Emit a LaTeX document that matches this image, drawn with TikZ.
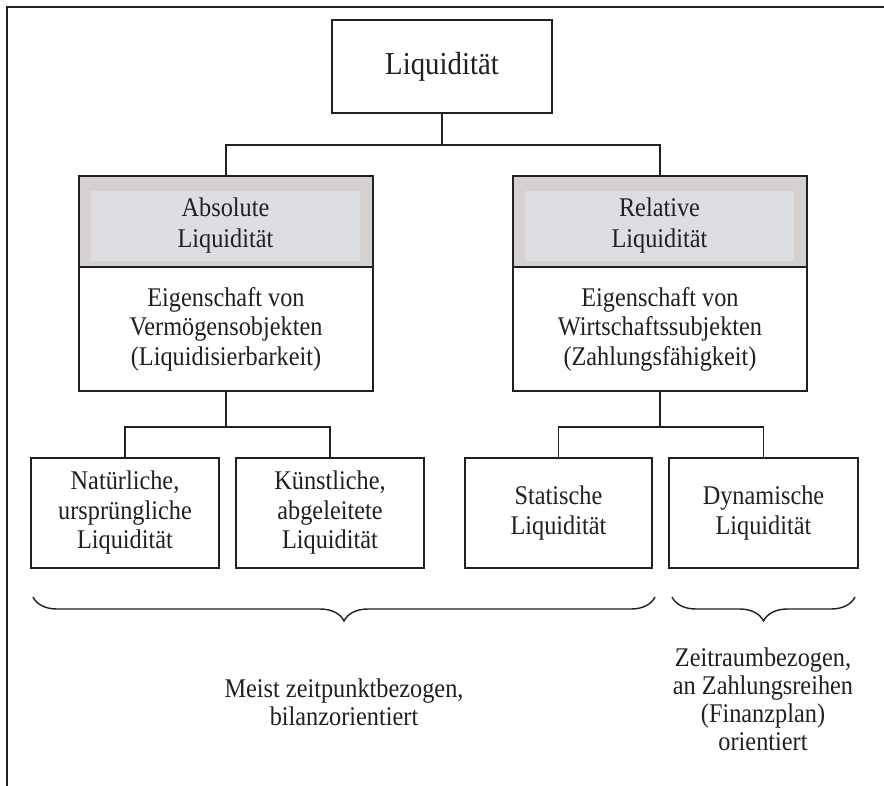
\documentclass[tikz,border=0pt]{standalone}
\usepackage{fontspec}
\setmainfont{Liberation Serif}[FakeStretch=0.9]
\usetikzlibrary{decorations.pathreplacing,calc}
\definecolor{ink}{HTML}{231F20}
\definecolor{hdrout}{HTML}{D5D1D1}
\definecolor{hdrin}{HTML}{DDDEE1}
\begin{document}
\begin{tikzpicture}[x=1pt,y=-1pt,
  box/.style={draw=ink, line width=1.6pt, fill=white, text=ink, align=center, inner sep=0pt, font=\fontsize{27}{29.5}\selectfont},
  hdr/.style={box, fill=hdrout},
  hdrinner/.style={fill=hdrin, text=ink, align=center, inner sep=0pt, font=\fontsize{27}{31}\selectfont},
  conn/.style={draw=ink, line width=1.4pt},
  bracestyle/.style={draw=ink, line width=1.4pt, decorate, decoration={brace, mirror, amplitude=24pt}},
  caption/.style={text=ink, align=center, inner sep=0pt, font=\fontsize{27}{28}\selectfont}]
\useasboundingbox (0,0) rectangle (884,786);
\fill[white] (0,0) rectangle (884,786);
\draw[ink, line width=2.8pt] (7,788) -- (7,7) -- (886,7);

\node[box, minimum width=220pt, minimum height=93pt, font=\fontsize{32}{36}\selectfont] (top) at (442,66.5) {Liquidität};

\node[hdr, minimum width=294pt, minimum height=91pt] (absh) at (226,221.5) {};
\node[hdrinner, minimum width=269pt, minimum height=70pt] (absi) at (225.5,226) {Absolute\\Liquidität};
\node[box, minimum width=294pt, minimum height=124pt] (absb) at (226,329) {Eigenschaft von\\Vermögensobjekten\\(Liquidisierbarkeit)};

\node[hdr, minimum width=294pt, minimum height=91pt] (relh) at (660,221.5) {};
\node[hdrinner, minimum width=269pt, minimum height=70pt] (reli) at (659.5,226) {Relative\\Liquidität};
\node[box, minimum width=294pt, minimum height=124pt] (relb) at (660,329) {Eigenschaft von\\Wirtschaftssubjekten\\(Zahlungsfähigkeit)};

\node[box, minimum width=188pt, minimum height=110pt] (c1) at (125,513) {Natürliche,\\ursprüngliche\\Liquidität};
\node[box, minimum width=188pt, minimum height=110pt] (c2) at (330,513) {Künstliche,\\abgeleitete\\Liquidität};
\node[box, minimum width=187pt, minimum height=110pt] (c3) at (558.5,513) {Statische\\Liquidität};
\node[box, minimum width=189pt, minimum height=110pt] (c4) at (763.5,513) {Dynamische\\Liquidität};

\coordinate (j1) at (442,145);
\draw[conn] (top.south) -- (j1);
\draw[conn] (absh.north) |- (j1) -| (relh.north);

\coordinate (j2) at (226,427);
\draw[conn] (absb.south) -- (j2);
\draw[conn] (c1.north) |- (j2) -| (c2.north);

\coordinate (j3) at (660,427);
\draw[conn] (relb.south) -- (j3);
\draw[conn] (c3.north) |- (j3) -| (c4.north);

\coordinate (bl1) at (33,597);
\coordinate (br1) at (655,597);
\coordinate (bl2) at (672,597);
\coordinate (br2) at (855,597);
\draw[bracestyle] (bl1) -- (br1);
\draw[bracestyle] (bl2) -- (br2);

\node[caption] (t1) at (344,702) {Meist zeitpunktbezogen,\\bilanzorientiert};
\node[caption] (t2) at (763,699) {Zeitraumbezogen,\\an Zahlungsreihen\\(Finanzplan)\\orientiert};
\end{tikzpicture}
\end{document}
